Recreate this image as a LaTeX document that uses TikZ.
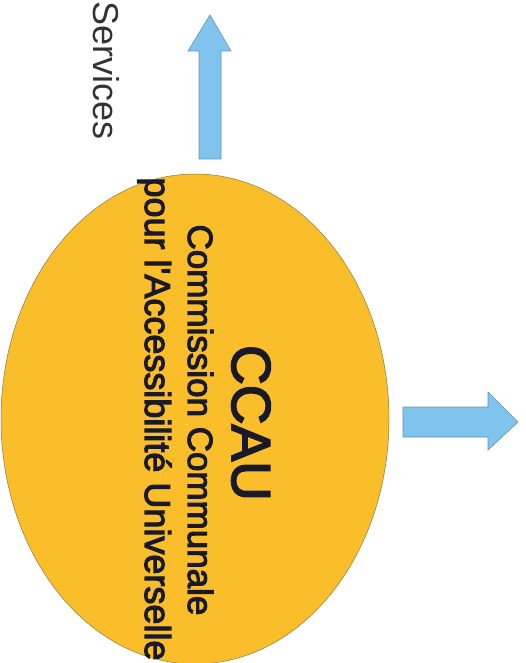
\documentclass[tikz,border=0pt]{standalone}
\usepackage{fontspec}
\newfontfamily\lib{Liberation Sans}
\newfontfamily\libh{Liberation Sans}[FakeBold=3]
\definecolor{ccauyellow}{RGB}{251,190,43}
\definecolor{ccauedge}{RGB}{140,120,70}
\definecolor{arrowblue}{RGB}{128,196,238}
\definecolor{arrowedge}{RGB}{95,145,185}
\definecolor{textdark}{RGB}{25,25,40}
\tikzset{
  blockarrow/.style={fill=arrowblue, draw=arrowedge, line width=0.6pt, line join=miter},
  vtext/.style={rotate=-90, anchor=base, inner sep=0pt, text=textdark, font=\libh},
}
\begin{document}
\begin{tikzpicture}[x=1pt,y=-1pt]
\useasboundingbox (0,0) rectangle (526,663);
% ellipse
\draw[fill=ccauyellow, draw=ccauedge, line width=0.5pt] (195,419) ellipse [x radius=194, y radius=245];
% up arrow
\draw[blockarrow] (199,159) -- (199,51) -- (188,51) -- (210,15) -- (231,51) -- (221,51) -- (221,159) -- cycle;
% right arrow
\draw[blockarrow] (403,407) -- (488,407) -- (488,392) -- (518,422) -- (488,450) -- (488,437) -- (403,437) -- cycle;
% texts
\node[vtext, anchor=base west, text=black!80, font=\lib\fontsize{36}{43}\selectfont] (services) at (93,1) {Services};
\node[vtext, font=\libh\fontsize{55}{66}\selectfont] (ccau) at (232,423) {CCAU};
\node[vtext, font=\libh\fontsize{35}{42}\selectfont] (comm) at (188,420) {Commission Communale};
\node[vtext, font=\libh\fontsize{36}{43}\selectfont] (pour) at (145,419) {pour l'Accessibilité Universelle};
\end{tikzpicture}
\end{document}
